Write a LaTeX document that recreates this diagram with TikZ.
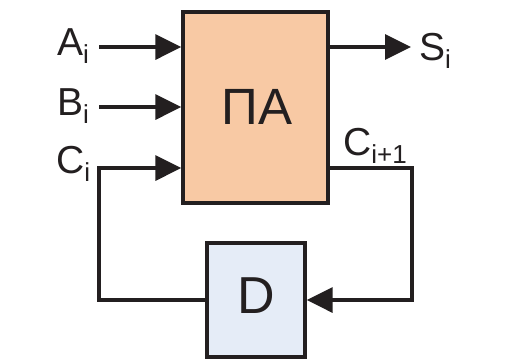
\documentclass[tikz,border=0pt]{standalone}
\usepackage{fontspec}
\setmainfont{Liberation Sans}
\usetikzlibrary{arrows.meta}
\definecolor{ink}{HTML}{231F20}
\definecolor{peach}{HTML}{F8C9A4}
\definecolor{paleblue}{HTML}{E5ECF7}
\newcommand{\lbl}[2]{{\fontsize{39}{39}\selectfont #1\raisebox{-8pt}{\fontsize{26}{26}\selectfont #2}}}
\begin{document}
\begin{tikzpicture}[x=1pt,y=-1pt,
  blk/.style={draw=ink,line width=3.3pt,inner sep=0pt,text=ink},
  wire/.style={draw=ink,line width=3.3pt},
  arr/.style={wire,-{Triangle[length=26pt,width=25pt]}},
  txt/.style={inner sep=0pt,anchor=base west,text=ink}]
\useasboundingbox (0,0) rectangle (511,359);
\fill[white] (0,0) rectangle (511,359);
% blocks
\node[blk,fill=peach,minimum width=145pt,minimum height=191pt] (pa) at (255.5,107.5) {};
\node[text=ink,inner sep=0pt] (patxt) at (257,107) {\fontsize{51}{51}\selectfont ПА};
\node[blk,fill=paleblue,minimum width=98pt,minimum height=114pt] (d) at (256,300) {};
\node[text=ink,inner sep=0pt] (dtxt) at (256,296) {\fontsize{52}{52}\selectfont D};
% labels
\node[txt] (la) at (57,55) {\lbl{A}{i}};
\node[txt] (lb) at (57,115) {\lbl{B}{i}};
\node[txt] (lc) at (56,173) {\lbl{C}{i}};
\node[txt] (ls) at (419,60) {\lbl{S}{i}};
\node[txt] (lco) at (343,155) {\lbl{C}{i+1}};
% wire points
\coordinate (ain) at (99,47);
\coordinate (bin) at (99,107);
\coordinate (cin) at (99,168);
\coordinate (sout) at (411,47);
\coordinate (cout) at (412,168);
% connectors
\draw[arr] (ain) -- (ain -| pa.west);
\draw[arr] (bin) -- (bin -| pa.west);
\draw[arr] (d.west) -| (cin) -- (cin -| pa.west);
\draw[arr] (sout -| pa.east) -- (sout);
\draw[arr] (cout -| pa.east) -- (cout) |- (d.east);
\end{tikzpicture}
\end{document}
